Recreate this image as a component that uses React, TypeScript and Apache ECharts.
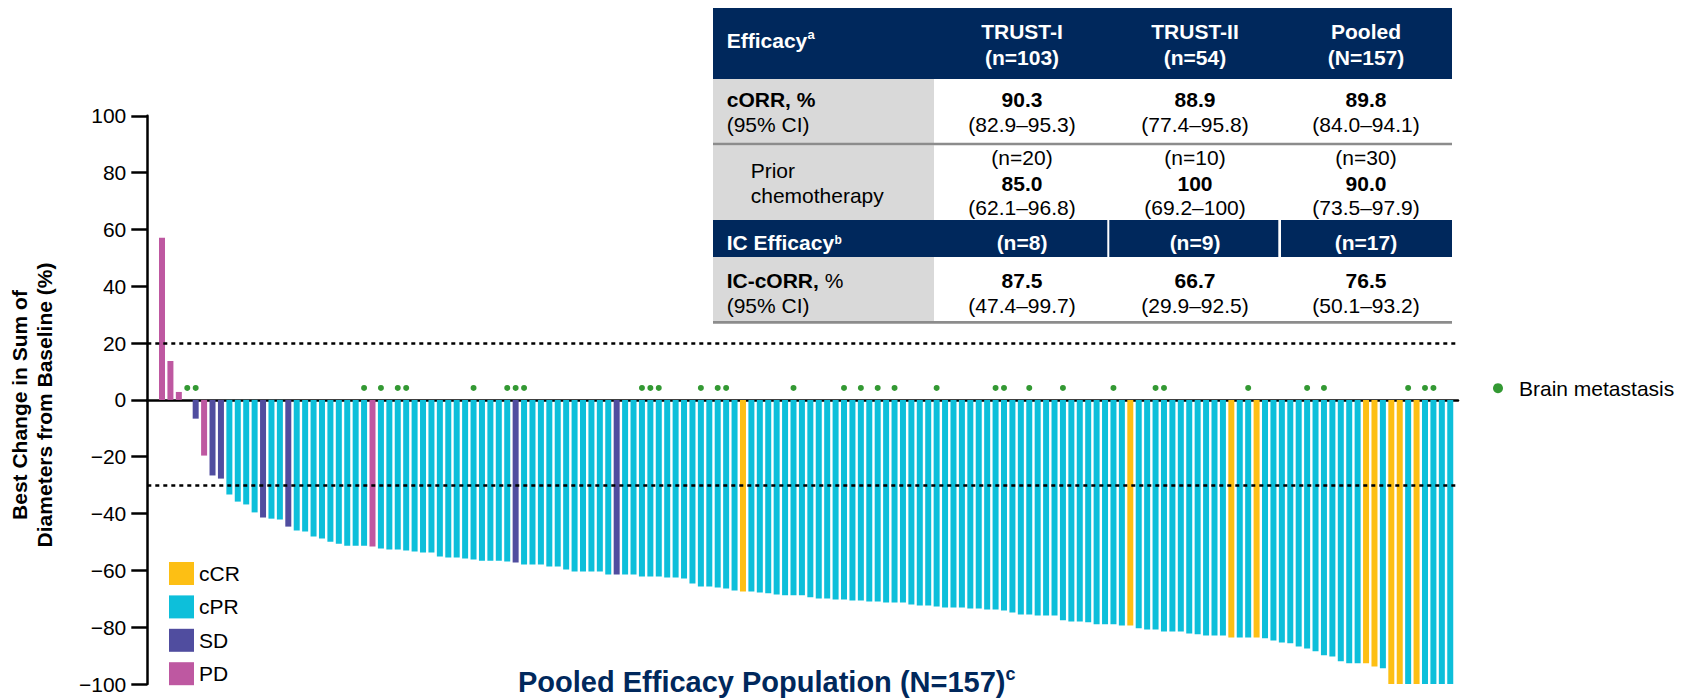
import React, { useEffect, useRef } from 'react';
import * as echarts from 'echarts';

// ---------- data ----------
const responseCategories = ['cCR', 'cPR', 'SD', 'PD'];
const responseColors = ['#FDBF14', '#0DBFDA', '#504D9F', '#BE58A1'];

// best change in sum of diameters from baseline (%), one value per patient, in plotted order
const bestChange = [
  57.1, 13.7, 2.8, 0, -6.6, -19.6, -26.6, -27.7, -33.3, -35.8,
  -36.8, -39.6, -41.4, -41.8, -42.1, -44.6, -46.0, -46.3, -48.1, -48.8,
  -49.9, -50.6, -51.3, -51.3, -51.3, -51.6, -52.3, -52.7, -52.7, -53.0,
  -53.4, -53.7, -53.7, -55.1, -55.5, -55.5, -55.8, -56.2, -56.6, -56.6,
  -56.6, -56.9, -57.2, -57.9, -57.9, -57.9, -58.6, -58.6, -59.7, -60.4,
  -60.4, -60.4, -60.4, -61.5, -61.5, -61.5, -61.5, -62.2, -62.2, -62.2,
  -62.5, -62.5, -62.9, -64.6, -65.7, -65.7, -66.0, -66.4, -67.1, -67.4,
  -67.4, -67.8, -68.1, -68.5, -68.8, -68.8, -68.8, -69.5, -69.9, -69.9,
  -70.3, -70.3, -70.6, -70.6, -71.0, -71.0, -71.3, -71.3, -71.3, -72.0,
  -72.4, -72.4, -72.7, -73.1, -73.1, -73.1, -73.4, -73.4, -73.8, -73.8,
  -74.1, -74.8, -75.5, -75.5, -75.9, -75.9, -75.9, -77.6, -78.0, -78.0,
  -78.3, -79.0, -79.0, -79.0, -79.4, -79.4, -80.4, -80.8, -80.8, -81.5,
  -81.5, -81.5, -82.2, -82.5, -82.9, -82.9, -82.9, -83.6, -83.6, -83.6,
  -83.6, -83.9, -84.7, -85.4, -85.7, -86.8, -87.5, -88.5, -89.9, -90.3,
  -92.0, -92.7, -92.7, -92.7, -93.8, -94.5, -100, -100, -100, -100,
  -100, -100, -100, -100,
];

// best response per patient, same order
const response = [
  'PD', 'PD', 'PD', 'SD', 'SD', 'PD', 'SD', 'SD', 'cPR', 'cPR',
  'cPR', 'cPR', 'SD', 'cPR', 'cPR', 'SD', 'cPR', 'cPR', 'cPR', 'cPR',
  'cPR', 'cPR', 'cPR', 'cPR', 'cPR', 'PD', 'cPR', 'cPR', 'cPR', 'cPR',
  'cPR', 'cPR', 'cPR', 'cPR', 'cPR', 'cPR', 'cPR', 'cPR', 'cPR', 'cPR',
  'cPR', 'cPR', 'SD', 'cPR', 'cPR', 'cPR', 'cPR', 'cPR', 'cPR', 'cPR',
  'cPR', 'cPR', 'cPR', 'cPR', 'SD', 'cPR', 'cPR', 'cPR', 'cPR', 'cPR',
  'cPR', 'cPR', 'cPR', 'cPR', 'cPR', 'cPR', 'cPR', 'cPR', 'cPR', 'cCR',
  'cPR', 'cPR', 'cPR', 'cPR', 'cPR', 'cPR', 'cPR', 'cPR', 'cPR', 'cPR',
  'cPR', 'cPR', 'cPR', 'cPR', 'cPR', 'cPR', 'cPR', 'cPR', 'cPR', 'cPR',
  'cPR', 'cPR', 'cPR', 'cPR', 'cPR', 'cPR', 'cPR', 'cPR', 'cPR', 'cPR',
  'cPR', 'cPR', 'cPR', 'cPR', 'cPR', 'cPR', 'cPR', 'cPR', 'cPR', 'cPR',
  'cPR', 'cPR', 'cPR', 'cPR', 'cPR', 'cCR', 'cPR', 'cPR', 'cPR', 'cPR',
  'cPR', 'cPR', 'cPR', 'cPR', 'cPR', 'cPR', 'cPR', 'cCR', 'cPR', 'cPR',
  'cCR', 'cPR', 'cPR', 'cPR', 'cPR', 'cPR', 'cPR', 'cPR', 'cPR', 'cPR',
  'cPR', 'cPR', 'cPR', 'cCR', 'cCR', 'cPR', 'cCR', 'cCR', 'cPR', 'cCR',
  'cPR', 'cPR', 'cPR', 'cPR',
];

// patients (by plotted position) with brain metastasis
const brainMetastasisPatients = [
  3, 4, 24, 26, 28, 29, 37, 41, 42, 43, 57, 58, 59, 64, 66, 67, 75, 81, 83, 85,
  87, 92, 99, 100, 103, 107, 113, 118, 119, 129, 136, 138, 148, 150, 151,
];
const brainMarkerLevel = 4.2;
const thresholdLines = [20, -30];

// table
const tableColumns = ['TRUST-I', 'TRUST-II', 'Pooled'];
const tableColumnN = ['(n=103)', '(n=54)', '(N=157)'];
const cORR = ['90.3', '88.9', '89.8'];
const cORRCI = ['(82.9\u201395.3)', '(77.4\u201395.8)', '(84.0\u201394.1)'];
const priorChemoN = ['(n=20)', '(n=10)', '(n=30)'];
const priorChemoORR = ['85.0', '100', '90.0'];
const priorChemoCI = ['(62.1\u201396.8)', '(69.2\u2013100)', '(73.5\u201397.9)'];
const icN = ['(n=8)', '(n=9)', '(n=17)'];
const icORR = ['87.5', '66.7', '76.5'];
const icORRCI = ['(47.4\u201399.7)', '(29.9\u201392.5)', '(50.1\u201393.2)'];

// ---------- styling ----------
const FONT = '"Liberation Sans", Arial, Helvetica, sans-serif';
const NAVY = '#00285C';
const CELL_GRAY = '#D9D9D9';
const RULE_GRAY = '#8C8C8C';

function txt(x: number, y: number, text: string, size: number, weight: string, fill: string, align: string = 'left', extra: any = {}) {
  return {
    type: 'text',
    x,
    y,
    silent: true,
    z: 10,
    style: {
      text,
      fontSize: size,
      fontWeight: weight,
      fontFamily: FONT,
      fill,
      align,
      verticalAlign: 'middle',
      textAlign: align,
      textVerticalAlign: 'middle',
      ...extra,
    },
  };
}

function rect(x: number, y: number, w: number, h: number, fill: string) {
  return { type: 'rect', silent: true, z: 5, shape: { x, y, width: w, height: h }, style: { fill } };
}

function hline(x1: number, x2: number, y: number, stroke: string, lw: number) {
  return { type: 'line', silent: true, z: 6, shape: { x1, y1: y, x2, y2: y }, style: { stroke, lineWidth: lw } };
}

function buildGraphic() {
  const L = 713;
  const R = 1452;
  const labelX = 726.7;
  const colX = [1022, 1195, 1366];
  const els: any[] = [];
  // backgrounds
  els.push(rect(L, 8, R - L, 71, NAVY));
  els.push(rect(L, 79, 221, 64, CELL_GRAY));
  els.push(rect(L, 145.3, 221, 74.7, CELL_GRAY));
  els.push(rect(L, 220, 394.3, 37, NAVY));
  els.push(rect(1109.3, 220, 169, 37, NAVY));
  els.push(rect(1281, 220, R - 1281, 37, NAVY));
  els.push(rect(L, 257, 221, 64, CELL_GRAY));
  els.push(hline(L, R, 144, RULE_GRAY, 2.6));
  els.push(hline(L, R, 322.3, RULE_GRAY, 2.7));
  // header
  els.push(txt(labelX, 40, 'Efficacy', 21, 'bold', '#fff'));
  els.push(txt(807.5, 34.6, 'a', 13, 'bold', '#fff'));
  tableColumns.forEach((c, i) => {
    els.push(txt(colX[i], 31.7, c, 21, 'bold', '#fff', 'center'));
    els.push(txt(colX[i], 57, tableColumnN[i], 21, 'bold', '#fff', 'center'));
  });
  // cORR row
  els.push(txt(labelX, 99.3, 'cORR, %', 21, 'bold', '#000'));
  els.push(txt(labelX, 124.3, '(95% CI)', 21, 'normal', '#000'));
  cORR.forEach((v, i) => {
    els.push(txt(colX[i], 99.3, v, 21, 'bold', '#000', 'center'));
    els.push(txt(colX[i], 124.3, cORRCI[i], 21, 'normal', '#000', 'center'));
  });
  // prior chemotherapy row
  els.push(txt(750.7, 170.3, 'Prior', 21, 'normal', '#000'));
  els.push(txt(750.7, 195.8, 'chemotherapy', 21, 'normal', '#000'));
  priorChemoORR.forEach((v, i) => {
    els.push(txt(colX[i], 157.8, priorChemoN[i], 21, 'normal', '#000', 'center'));
    els.push(txt(colX[i], 183, v, 21, 'bold', '#000', 'center'));
    els.push(txt(colX[i], 207.5, priorChemoCI[i], 21, 'normal', '#000', 'center'));
  });
  // IC header
  els.push(txt(labelX, 242.3, 'IC Efficacy', 21, 'bold', '#fff'));
  els.push(txt(834.5, 240, 'b', 12, 'bold', '#fff'));
  icN.forEach((v, i) => {
    els.push(txt(colX[i], 242.3, v, 21, 'bold', '#fff', 'center'));
  });
  // IC-cORR row
  els.push(txt(labelX, 280.7, 'IC-cORR,', 21, 'bold', '#000'));
  els.push(txt(824.7, 280.7, '%', 21, 'normal', '#000'));
  els.push(txt(labelX, 305, '(95% CI)', 21, 'normal', '#000'));
  icORR.forEach((v, i) => {
    els.push(txt(colX[i], 280.7, v, 21, 'bold', '#000', 'center'));
    els.push(txt(colX[i], 305, icORRCI[i], 21, 'normal', '#000', 'center'));
  });
  // y-axis title
  els.push({
    type: 'text',
    x: 32,
    y: 405,
    rotation: Math.PI / 2,
    silent: true,
    style: {
      text: 'Best Change in Sum of\nDiameters from Baseline (%)',
      fontSize: 21,
      fontWeight: 'bold',
      fontFamily: FONT,
      fill: '#000',
      lineHeight: 24.5,
      align: 'center',
      verticalAlign: 'middle',
      textAlign: 'center',
      textVerticalAlign: 'middle',
    },
  });
  // bottom title
  els.push(txt(518, 682, 'Pooled Efficacy Population (N=157)', 29, 'bold', NAVY));
  els.push(txt(1005.5, 674, 'c', 18, 'bold', NAVY));
  return els;
}

function buildOption() {
  const barSeries = responseCategories.map((cat, k) => ({
    name: cat,
    type: 'bar',
    barWidth: 6,
    barGap: '-100%',
    silent: true,
    itemStyle: { color: responseColors[k] },
    data: bestChange
      .map((v, i) => [i, v, response[i]])
      .filter((d) => d[2] === cat)
      .map((d) => [d[0], d[1]]),
  }));

  const scatter = {
    name: 'Brain metastasis',
    type: 'scatter',
    symbol: 'circle',
    symbolSize: 6,
    silent: true,
    z: 4,
    itemStyle: { color: '#007F00' },
    data: brainMetastasisPatients.map((i) => [i, brainMarkerLevel]),
    markLine: {
      silent: true,
      symbol: 'none',
      label: { show: false },
      lineStyle: { type: [4, 4], color: '#000', width: 2.5 },
      data: thresholdLines.map((y) => ({ yAxis: y })),
    },
  };

  return {
    animation: false,
    backgroundColor: '#fff',
    textStyle: { fontFamily: FONT },
    grid: { left: 147.3, top: 115.8, width: 1310.7, height: 568.2, containLabel: false },
    xAxis: {
      type: 'value',
      min: -1.746,
      max: 153.92,
      axisLine: { show: true, onZero: true, lineStyle: { color: '#000', width: 2.5 } },
      axisTick: { show: false },
      axisLabel: { show: false },
      splitLine: { show: false },
    },
    yAxis: {
      type: 'value',
      min: -100,
      max: 100,
      interval: 20,
      axisLine: { show: true, onZero: false, lineStyle: { color: '#000', width: 2.5 } },
      axisTick: { show: true, length: 16, lineStyle: { color: '#000', width: 2.5 } },
      axisLabel: {
        margin: 21,
        fontSize: 21,
        color: '#000',
        fontFamily: FONT,
        formatter: (v: number) => (v < 0 ? '\u2212' + Math.abs(v) : String(v)),
      },
      splitLine: { show: false },
    },
    legend: [
      {
        data: responseCategories,
        orient: 'vertical',
        left: 169,
        top: 562,
        itemWidth: 25,
        itemHeight: 23,
        itemGap: 10.4,
        icon: 'rect',
        padding: 0,
        selectedMode: false,
        textStyle: { fontSize: 21, color: '#000', fontFamily: FONT },
      },
      {
        data: ['Brain metastasis'],
        left: 1493,
        top: 377.7,
        itemWidth: 10,
        itemHeight: 10,
        icon: 'circle',
        padding: 0,
        selectedMode: false,
        textStyle: { fontSize: 21, color: '#000', fontFamily: FONT, padding: [0, 0, 0, 11] },
      },
    ],
    series: [...barSeries, scatter],
    graphic: { elements: buildGraphic() },
  };
}

export default function App() {
  const ref = useRef<HTMLDivElement>(null);
  useEffect(() => {
    if (!ref.current) return;
    const chart = echarts.init(ref.current, null, { renderer: 'svg' });
    chart.setOption(buildOption() as any);
    return () => chart.dispose();
  }, []);
  return (
    <div
      ref={ref}
      style={{ position: 'fixed', left: 0, top: 0, width: 1681, height: 698, background: '#fff' }}
    />
  );
}
